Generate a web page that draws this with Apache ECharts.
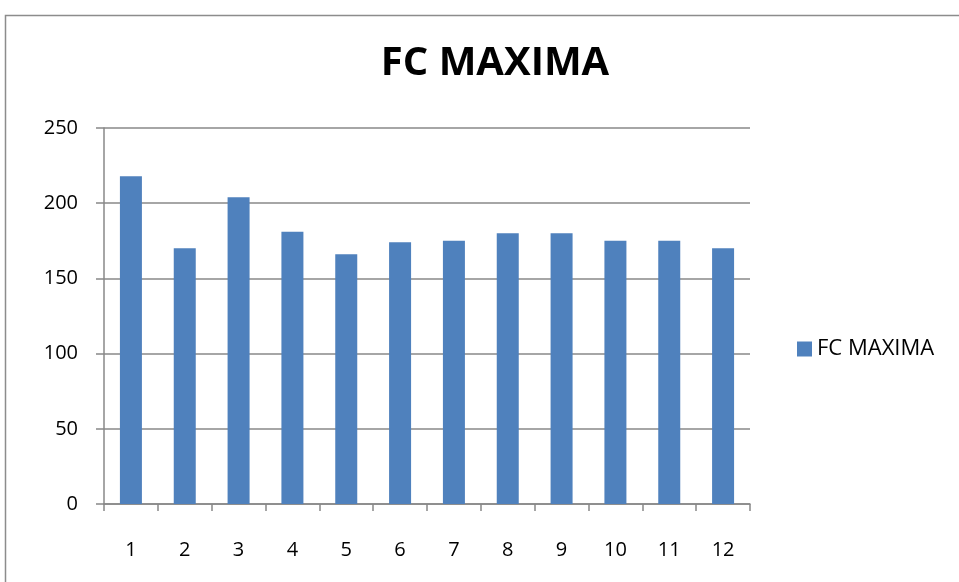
<!DOCTYPE html>
<html>
<head>
<meta charset="utf-8">
<script src="https://cdn.jsdelivr.net/npm/echarts@6/dist/echarts.min.js"></script>
<style>
html,body{margin:0;padding:0;background:#fff;}
#c{width:959px;height:582px;}
</style>
</head>
<body>
<div id="c"></div>
<script>
const categories = ['1','2','3','4','5','6','7','8','9','10','11','12'];
const seriesName = 'FC MAXIMA';
const values = [218, 170, 204, 181, 166, 174, 175, 180, 180, 175, 175, 170];
const yTicks = [0, 50, 100, 150, 200, 250];

const chart = echarts.init(document.getElementById('c'));
const font = '"Open Sans", "Liberation Sans", sans-serif';
chart.setOption({
  animation: false,
  graphic: [{
    type: 'rect',
    shape: {x: 5.5, y: 15.5, width: 1200, height: 1200},
    style: {fill: 'none', stroke: '#8c8c8c', lineWidth: 1.5},
    silent: true
  }],
  title: {
    text: 'FC MAXIMA',
    left: 490, top: 39, textAlign: 'center',
    textStyle: {fontFamily: font, fontWeight: 'bold', fontSize: 40, color: '#000'}
  },
  legend: {
    data: [seriesName],
    left: 792, top: 333,
    icon: 'rect', itemWidth: 15, itemHeight: 15, itemGap: 8,
    textStyle: {fontFamily: font, fontSize: 22, color: '#000'}
  },
  grid: {left: 104, right: 209, top: 128, bottom: 78, containLabel: false},
  xAxis: {
    type: 'category',
    data: categories,
    boundaryGap: true,
    axisLine: {lineStyle: {color: '#888', width: 1.5}},
    axisTick: {show: true, alignWithLabel: false, length: 7, lineStyle: {color: '#888', width: 1.5}},
    axisLabel: {fontFamily: font, fontSize: 20, color: '#000', margin: 36}
  },
  yAxis: {
    type: 'value',
    min: yTicks[0], max: yTicks[yTicks.length - 1], interval: 50,
    axisLine: {show: true, lineStyle: {color: '#888', width: 1.5}},
    axisTick: {show: true, length: 8, lineStyle: {color: '#888', width: 1.5}},
    splitLine: {lineStyle: {color: '#888', width: 1.5}},
    axisLabel: {fontFamily: font, fontSize: 20, color: '#000', margin: 26}
  },
  series: [{
    name: seriesName,
    type: 'bar',
    data: values,
    barWidth: 22,
    itemStyle: {color: '#4F81BD'}
  }]
});
</script>
</body>
</html>
